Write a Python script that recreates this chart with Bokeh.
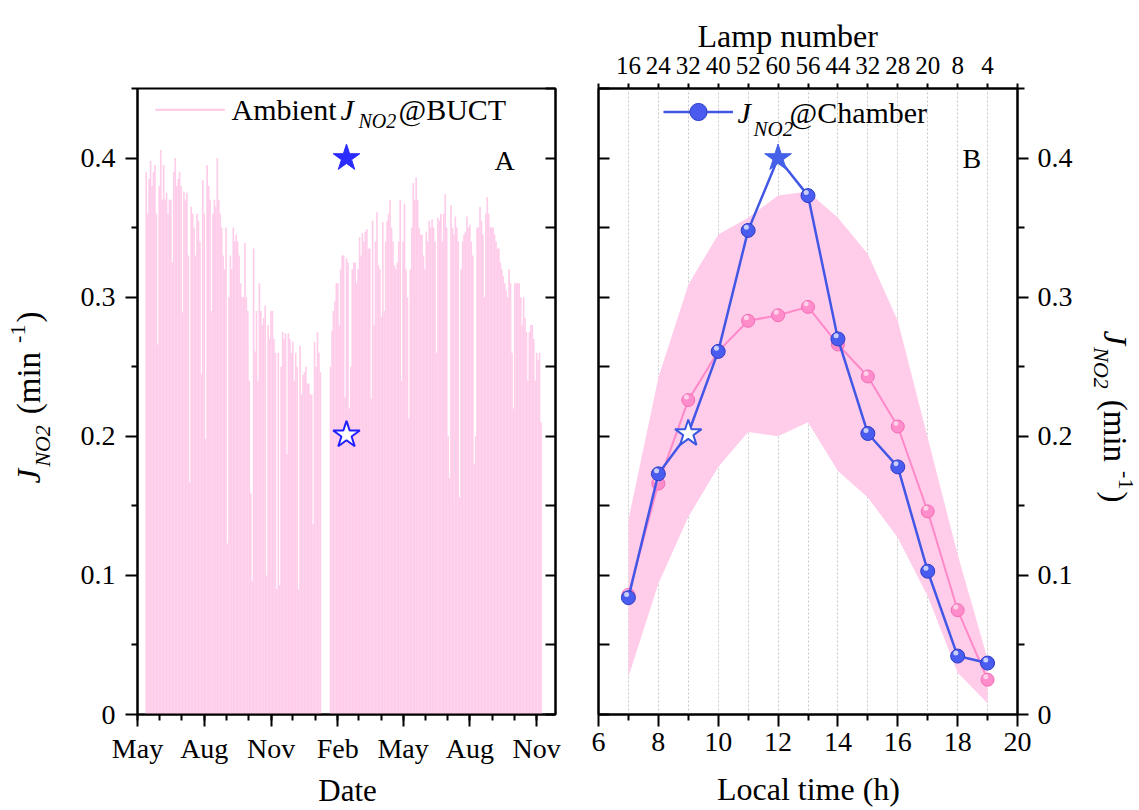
import math
from datetime import date
from bokeh.plotting import figure
from bokeh.layouts import row, column
from bokeh.models import (ColumnDataSource, FixedTicker, Label, Legend, LegendItem,
                          LinearAxis, Range1d, CustomJSTickFormatter, Grid, Title)
from bokeh.transform import dodge
from bokeh.embed import file_html
from bokeh.resources import INLINE

FONT = "Liberation Serif"

# ---------------- Panel A data: ambient daily maximum J(NO2) at BUCT ----------------
origin = date(2019, 5, 1)
amb_start = date(2019, 5, 13)
amb_step_days = 2
amb_jmax = [
    0.39, 0.36, 0.385, 0.398, 0.38, 0.39, 0.395, 0.36, 0.266, 0.38, 0.406, 0.37, 0.395, 0.37,
    0.375, 0.36, 0.37, 0.37, 0.325, 0.39, 0.40, 0.38, 0.385, 0.39, 0.38, 0.289, 0.376, 0.37,
    0.375, 0.33, 0.167, 0.365, 0.36, 0.35, 0.33, 0.36, 0.355, 0.34, 0.245, 0.384, 0.36, 0.198,
    0.395, 0.38, 0.37, 0.29, 0.36, 0.37, 0.365, 0.40, 0.37, 0.36, 0.35, 0.33, 0.32, 0.35,
    0.123, 0.30, 0.33, 0.32, 0.35, 0.34, 0.345, 0.34, 0.33, 0.31, 0.30,
    0.30, 0.339, 0.30, 0.29, 0.24, 0.159, 0.096, 0.335, 0.261, 0.29, 0.24, 0.31, 0.29, 0.28,
    0.285, 0.294, 0.10, 0.28, 0.27, 0.29, 0.29, 0.27, 0.26, 0.09, 0.26, 0.093, 0.25, 0.275,
    0.27, 0.274, 0.187, 0.274, 0.27, 0.26, 0.268, 0.24, 0.26, 0.25, 0.09, 0.265, 0.23, 0.244,
    0.246, 0.25, 0.238, 0.238, 0.23, 0.23, 0.137, 0.268, 0.25, 0.275, 0.26, 0.246,
    None, None, None, None, None, None,
    0.25, 0.276, 0.29, 0.297, 0.31, 0.31, 0.28, 0.32, 0.33, 0.33,
    0.228, 0.328, 0.325, 0.22, 0.25, 0.32, 0.325, 0.325, 0.31, 0.32, 0.343, 0.33, 0.346, 0.34,
    0.347, 0.349, 0.335, 0.335, 0.227, 0.355, 0.28, 0.34, 0.361, 0.323, 0.32, 0.286, 0.354,
    0.29, 0.34, 0.355, 0.36, 0.37, 0.35, 0.34, 0.323, 0.32, 0.325, 0.34, 0.37, 0.24, 0.34,
    0.367, 0.32, 0.30, 0.213, 0.32, 0.35, 0.382, 0.37, 0.386, 0.37, 0.35, 0.345, 0.345, 0.33,
    0.32, 0.347, 0.34, 0.355, 0.35, 0.356, 0.35, 0.34, 0.26, 0.357, 0.355, 0.36, 0.34,
    0.36, 0.374, 0.35, 0.2, 0.17, 0.366, 0.35, 0.345, 0.358, 0.35, 0.34, 0.156, 0.32, 0.34,
    0.345, 0.347, 0.358, 0.35, 0.352, 0.34, 0.33, 0.18, 0.2, 0.35, 0.35, 0.365, 0.355, 0.345,
    0.3, 0.36, 0.372, 0.36, 0.35, 0.35, 0.35, 0.345, 0.34, 0.335, 0.335, 0.325, 0.32, 0.315,
    0.31, 0.305, 0.30, 0.32, 0.31, 0.26, 0.22, 0.31, 0.31, 0.31, 0.31, 0.30, 0.28, 0.30, 0.285,
    0.275, 0.24, 0.275, 0.28, 0.28, 0.27, 0.24, 0.26, 0.255, 0.26, 0.21,
]
month_tick_dates = [date(2019, 5, 1), date(2019, 8, 1), date(2019, 11, 1), date(2020, 2, 1),
                    date(2020, 5, 1), date(2020, 8, 1), date(2020, 11, 1)]
month_tick_labels = ["May", "Aug", "Nov", "Feb", "May", "Aug", "Nov"]
month_minor_dates = [date(2019, m, 1) for m in range(5, 13)] + \
                    [date(2020, m, 1) for m in range(1, 12)]
x_end_date = date(2020, 11, 27)
starA_date = date(2020, 2, 13)
starA_filled = 0.400
starA_open = 0.201
y_ticks = [0, 0.1, 0.2, 0.3, 0.4]
y_minor = [0.05, 0.15, 0.25, 0.35, 0.45]

# ---------------- Panel B data ----------------
hours = [7, 8, 9, 10, 11, 12, 13, 14, 15, 16, 17, 18, 19]
lamp_number = ["16", "24", "32", "40", "52", "60", "56", "44", "32", "28", "20", "8", "4"]
chamber = [0.084, 0.173, 0.202, 0.261, 0.348, 0.400, 0.373, 0.270, 0.202, 0.178, 0.103, 0.042, 0.037]
amb_mean = [0.086, 0.166, 0.226, 0.261, 0.283, 0.287, 0.293, 0.266, 0.243, 0.207, 0.146, 0.075, 0.025]
amb_upper = [0.140, 0.242, 0.309, 0.345, 0.357, 0.373, 0.376, 0.357, 0.331, 0.283, 0.199, 0.115, 0.040]
amb_lower = [0.027, 0.094, 0.142, 0.178, 0.203, 0.200, 0.210, 0.175, 0.156, 0.127, 0.085, 0.030, 0.008]
star_filled_hour, star_open_hour = 12, 9
bottom_ticks_B = [6, 8, 10, 12, 14, 16, 18, 20]
bottom_minor_B = [7, 9, 11, 13, 15, 17, 19]

# ---------------- colours ----------------
PINK_FILL = "#ffcdea"
PINK_LINE = "#ff88c8"
PINK_BALL = "#ff8ccb"
PINK_BALL_EDGE = "#f26db5"
BLUE_LINE = "#4357e6"
BLUE_BALL = "#4a5cf0"
BLUE_BALL_EDGE = "#2c3cc4"

# ---------------- layout (page pixels) ----------------
YRANGE = (0, 0.45)
FRAME_TOP, FRAME_BOTTOM = 88, 714
FRAME_H = FRAME_BOTTOM - FRAME_TOP
A_LEFT, A_RIGHT = 137, 555
B_LEFT, B_RIGHT = 598, 1017
COL_L = 55          # left text column (y label of panel A)
SPLIT = 577
COL_R = 1078        # start of right text column (y label of panel B)
TOTAL_W, TOTAL_H = 1139, 810
ROW_H = 770         # plots row; below it a strip for the x-axis titles
KSHIFT = 0.38       # baseline correction of Label text (fraction of font size)

# Times/Liberation Serif advance widths (1/1000 em) for composing rotated labels
ADV = {"J": 444, "N": 667, "O": 722, "2": 500, "(": 333, ")": 333, "m": 778, "i": 278,
       "n": 500, "-": 333, "1": 500, " ": 250}


def text_width(s, size):
    return sum(ADV[c] for c in s) * size / 1000.0


def days(d):
    return (d - origin).days


def style_axis(ax, t_out=0, t_in=0, m_out=0, m_in=0, size="28px", standoff=10):
    ax.axis_line_width = 2
    ax.major_tick_line_width = 2
    ax.minor_tick_line_width = 2
    ax.major_tick_out = t_out
    ax.major_tick_in = t_in
    ax.minor_tick_out = m_out
    ax.minor_tick_in = m_in
    ax.major_label_text_font = FONT
    ax.major_label_text_font_size = size
    ax.major_label_text_color = "black"
    ax.major_label_standoff = standoff


yfmt = CustomJSTickFormatter(code="return tick == 0 ? '0' : tick.toFixed(1);")
nofmt = CustomJSTickFormatter(code="return '';")


def add_text(p, conv, px, py, text, size, italic=False, angle=0.0, align="left"):
    shift = KSHIFT * size
    if angle == 0:
        py -= shift
    elif angle > 0:
        px -= shift
    else:
        px += shift
    x, y = conv(px, py)
    p.add_layout(Label(x=x, y=y, text=text, text_font=FONT, text_font_size=f"{size}px",
                       text_font_style="italic" if italic else "normal", angle=angle,
                       text_align=align, text_baseline="alphabetic", text_color="black"))


sy = FRAME_H / (YRANGE[1] - YRANGE[0])


def text_column(x0, x1):
    # same top/bottom borders as the plots (the row aligns their frames)
    f = figure(width=x1 - x0, height=ROW_H, x_range=Range1d(x0, x1), y_range=Range1d(0, FRAME_H),
               x_axis_type=None, y_axis_type=None, output_backend="svg", toolbar_location=None,
               title=None, min_border_left=0, min_border_right=0, min_border_top=FRAME_TOP,
               min_border_bottom=ROW_H - FRAME_BOTTOM)
    f.outline_line_color = None
    return f


def conv_col(px, py):
    return px, FRAME_BOTTOM - py


def rotated_label(fig, center_y, base_x, direction, main=33, sub=22):
    # pieces: text, size, italic, baseline shift (toward glyph bottom), gap before
    pieces = [("J", main, True, 0, 0), ("NO2", sub, True, 9, 2), ("(min", main, False, 0, 11),
              ("-1", sub, False, -15, 9), (")", main, False, 0, 2)]
    total = sum(text_width(t, s) + g for t, s, _, _, g in pieces)
    angle = math.pi / 2 if direction == "up" else -math.pi / 2
    sgn = -1 if direction == "up" else 1          # screen-y direction of reading
    pos = center_y - sgn * total / 2
    for t, s, it, drop, gap in pieces:
        pos += sgn * gap
        bx = base_x + drop if direction == "up" else base_x - drop
        add_text(fig, conv_col, bx, pos, t, s, italic=it, angle=angle)
        pos += sgn * text_width(t, s)


# ================= left text column: y label of panel A =================
colL = text_column(0, COL_L)
rotated_label(colL, 397, 41, "up")

# ================= Panel A =================
xA_end = days(x_end_date)
pA = figure(width=SPLIT - COL_L, height=ROW_H, x_range=Range1d(0, xA_end), y_range=Range1d(*YRANGE),
            x_axis_type=None, y_axis_type=None, output_backend="svg", toolbar_location=None,
            title=None, min_border_left=A_LEFT - COL_L, min_border_right=SPLIT - A_RIGHT,
            min_border_top=FRAME_TOP, min_border_bottom=ROW_H - FRAME_BOTTOM)
pA.outline_line_color = "black"
pA.outline_line_width = 2

sxA = (A_RIGHT - A_LEFT) / xA_end


def convA(px, py):
    return (px - A_LEFT) / sxA, (FRAME_BOTTOM - py) / sy


amb_days, amb_vals = [], []
d0 = days(amb_start)
for i, v in enumerate(amb_jmax):
    if v is not None:
        amb_days.append(d0 + i * amb_step_days)
        amb_vals.append(v)
srcA = ColumnDataSource(dict(day=amb_days, j=amb_vals))
barsA = pA.vbar(x="day", top="j", bottom=0, width=amb_step_days * 1.15, source=srcA,
                fill_color=PINK_FILL, line_color=None)

sd = days(starA_date)
pA.scatter(x=[sd], y=[starA_filled], marker="star", size=28, fill_color="#2b2bff",
           line_color="#2b2bff", line_width=1)
pA.scatter(x=[sd], y=[starA_open], marker="star", size=28, fill_color="white",
           line_color="#1f1fff", line_width=2)

axA_b = LinearAxis(ticker=FixedTicker(ticks=[days(d) for d in month_tick_dates],
                                      minor_ticks=[days(d) for d in month_minor_dates]),
                   major_label_overrides={days(d): l for d, l in zip(month_tick_dates, month_tick_labels)})
style_axis(axA_b, t_out=12, m_out=6, standoff=6)
pA.add_layout(axA_b, "below")

axA_l = LinearAxis(ticker=FixedTicker(ticks=y_ticks, minor_ticks=y_minor), formatter=yfmt)
style_axis(axA_l, t_out=12, m_out=6, standoff=10)
pA.add_layout(axA_l, "left")

axA_r = LinearAxis(ticker=FixedTicker(ticks=y_ticks, minor_ticks=y_minor), formatter=nofmt)
style_axis(axA_r, t_in=10, m_in=10, size="1px", standoff=0)
pA.add_layout(axA_r, "right")

legA = Legend(items=[LegendItem(label=" ", renderers=[barsA])], location=(9, 603),
              margin=0, padding=0, glyph_width=87, glyph_height=3, label_height=3,
              label_width=2, label_text_font_size="1px", border_line_color=None,
              background_fill_alpha=0)
pA.add_layout(legA)

add_text(pA, convA, 231, 120, "Ambient", 30)
add_text(pA, convA, 340, 120, "J", 30, italic=True)
add_text(pA, convA, 358, 128, "NO2", 20, italic=True)
add_text(pA, convA, 398, 120, "@BUCT", 30)
add_text(pA, convA, 494, 171, "A", 28)

# ================= Panel B =================
pB = figure(width=COL_R - SPLIT, height=ROW_H, x_range=Range1d(6, 20), y_range=Range1d(*YRANGE),
            x_axis_type=None, y_axis_type=None, output_backend="svg", toolbar_location=None,
            title=None, min_border_left=B_LEFT - SPLIT, min_border_right=COL_R - B_RIGHT,
            min_border_top=FRAME_TOP, min_border_bottom=ROW_H - FRAME_BOTTOM)
pB.outline_line_color = "black"
pB.outline_line_width = 2

sxB = (B_RIGHT - B_LEFT) / 14


def convB(px, py):
    return 6 + (px - B_LEFT) / sxB, (FRAME_BOTTOM - py) / sy


pB.add_layout(Grid(dimension=0, ticker=FixedTicker(ticks=hours), grid_line_color="#c8c8c8",
                   grid_line_dash="2 2", grid_line_width=1))

srcB = ColumnDataSource(dict(h=hours, lo=amb_lower, hi=amb_upper, mean=amb_mean, ch=chamber))
pB.varea(x="h", y1="lo", y2="hi", source=srcB, fill_color=PINK_FILL)
pB.line(x="h", y="mean", source=srcB, line_color=PINK_LINE, line_width=2)
pB.scatter(x="h", y="mean", source=srcB, size=13, fill_color=PINK_BALL, line_color=PINK_BALL_EDGE)
pB.scatter(x=dodge("h", -0.06), y=dodge("mean", 0.0022), source=srcB, size=5,
           fill_color="white", fill_alpha=0.6, line_color=None)

blue_line = pB.line(x="h", y="ch", source=srcB, line_color=BLUE_LINE, line_width=2.5)
ball_idx = [i for i, h in enumerate(hours) if h not in (star_filled_hour, star_open_hour)]
srcBall = ColumnDataSource(dict(h=[hours[i] for i in ball_idx], ch=[chamber[i] for i in ball_idx]))
ball = pB.scatter(x="h", y="ch", source=srcBall, size=14, fill_color=BLUE_BALL,
                  line_color=BLUE_BALL_EDGE)
pB.scatter(x=dodge("h", -0.06), y=dodge("ch", 0.0022), source=srcBall, size=5,
           fill_color="white", fill_alpha=0.7, line_color=None)
pB.scatter(x=[star_filled_hour], y=[chamber[hours.index(star_filled_hour)]], marker="star",
           size=28, fill_color="#4561e8", line_color="#4561e8")
pB.scatter(x=[star_open_hour], y=[chamber[hours.index(star_open_hour)]], marker="star",
           size=28, fill_color="white", line_color="#3a57e0", line_width=2)

axB_b = LinearAxis(ticker=FixedTicker(ticks=bottom_ticks_B, minor_ticks=bottom_minor_B))
style_axis(axB_b, t_out=12, m_out=6, standoff=6)
pB.add_layout(axB_b, "below")

top_ticks = list(range(6, 21))
overrides = {t: "" for t in top_ticks}
for h, n in zip(hours, lamp_number):
    overrides[h] = n
axB_t = LinearAxis(ticker=FixedTicker(ticks=top_ticks), major_label_overrides=overrides)
style_axis(axB_t, t_out=5, size="25px", standoff=10)
pB.add_layout(axB_t, "above")
pB.add_layout(Title(text="Lamp number", align="left", offset=99, standoff=0, text_font=FONT,
                    text_font_size="32px", text_font_style="normal", text_color="black"), "above")

axB_l = LinearAxis(ticker=FixedTicker(ticks=y_ticks, minor_ticks=y_minor), formatter=nofmt)
style_axis(axB_l, t_in=11, m_in=11, size="1px", standoff=0)
pB.add_layout(axB_l, "left")

axB_r = LinearAxis(ticker=FixedTicker(ticks=y_ticks, minor_ticks=y_minor), formatter=yfmt)
style_axis(axB_r, t_out=11, m_out=7, standoff=9)
pB.add_layout(axB_r, "right")

legB = Legend(items=[LegendItem(label=" ", renderers=[blue_line, ball])], location=(65, 581),
              margin=0, padding=0, glyph_width=70, glyph_height=43, label_height=43,
              label_width=2, label_text_font_size="1px", border_line_color=None,
              background_fill_alpha=0)
pB.add_layout(legB)

add_text(pB, convB, 737, 123, "J", 30, italic=True)
add_text(pB, convB, 753, 136, "NO2", 21, italic=True)
add_text(pB, convB, 789, 123, "@Chamber", 30)
add_text(pB, convB, 962, 169, "B", 28)

# ================= right text column: y label of panel B =================
colR = text_column(COL_R, TOTAL_W)
rotated_label(colR, 416, 1102, "down")

# ================= bottom strip: x-axis titles =================
strip = figure(width=TOTAL_W, height=TOTAL_H - ROW_H, x_range=Range1d(0, TOTAL_W),
               y_range=Range1d(0, TOTAL_H - ROW_H), x_axis_type=None, y_axis_type=None,
               output_backend="svg", toolbar_location=None, min_border=0, title=None)
strip.outline_line_color = None


def conv_strip(px, py):
    return px, TOTAL_H - py


add_text(strip, conv_strip, 347, 802, "Date", 31, align="center")
add_text(strip, conv_strip, 808, 801, "Local time (h)", 32, align="center")

layout = column(row(colL, pA, pB, colR), strip)
open("out.html", "w").write(file_html(layout, INLINE))
